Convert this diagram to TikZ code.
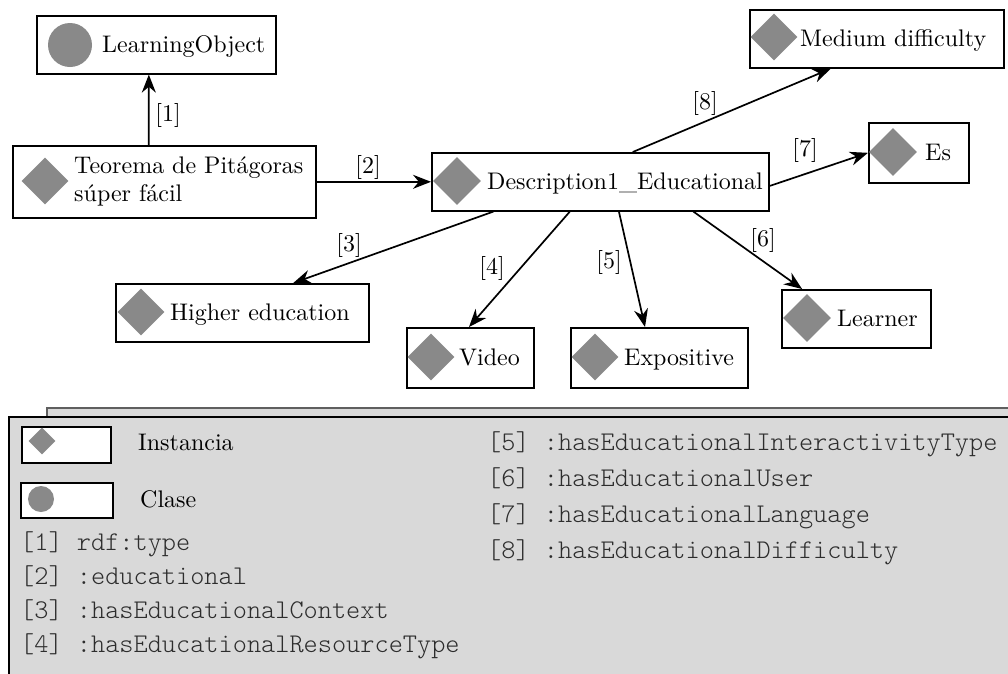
\documentclass[tikz,border=0pt]{standalone}
\usepackage{fontspec}
\setmainfont{lmroman10-regular.otf}[BoldFont=lmroman10-bold.otf, ItalicFont=lmroman10-italic.otf]
\newfontfamily\codefont{lmmonolt10-regular.otf}
\usetikzlibrary{shapes.geometric,arrows.meta,calc}
\definecolor{markgray}{RGB}{137,137,137}
\definecolor{panelgray}{RGB}{217,217,217}
\definecolor{tabedge}{RGB}{95,95,95}
\definecolor{codegray}{RGB}{45,45,45}
\begin{document}
\begin{tikzpicture}[x=1pt,y=-1pt,
  nodebox/.style={draw=black, line width=1.6pt, fill=white, rectangle, inner sep=0pt, anchor=north west},
  inst/.style={diamond, fill=markgray, inner sep=0pt, minimum width=#1, minimum height=#1, aspect=1},
  cls/.style={circle, fill=markgray, inner sep=0pt, minimum size=#1},
  boxtext/.style={font=\fontsize{24}{28}\selectfont, inner sep=0pt, anchor=base west},
  reltag/.style={font=\fontsize{24}{28}\selectfont, inner sep=0pt},
  rel/.style={draw=black, line width=1.7pt, -{Stealth[length=18pt,width=14pt]}},
  legcode/.style={font=\codefont\fontsize{27}{30}\selectfont, text=codegray, inner sep=0pt, anchor=base west},
]
\useasboundingbox (0,0) rectangle (1008,673);
\clip (0,0) rectangle (1008,673);

% ---- resources ----
\node[nodebox, minimum width=239, minimum height=58] (lo) at (36,15) {};
\node[cls=44] (lomark) at (70,45) {};
\node[boxtext] (lotext) at (102,52) {LearningObject};

\node[nodebox, minimum width=303, minimum height=72] (teo) at (12,145) {};
\node[inst=47] (teomark) at (45,181) {};
\node[font=\fontsize{24}{28}\selectfont, inner sep=0pt, anchor=west, align=left] (teotext) at (74,181) {Teorema de Pitágoras\\súper fácil};

\node[nodebox, minimum width=337, minimum height=58] (desc) at (431,152) {};
\node[inst=48] (descmark) at (457,181) {};
\node[boxtext] (desctext) at (487,189) {Description1\_Educational};

\node[nodebox, minimum width=254, minimum height=58] (med) at (749,9) {};
\node[inst=47] (medmark) at (774,37) {};
\node[boxtext] (medtext) at (800,46) {Medium difficulty};

\node[nodebox, minimum width=100, minimum height=60] (es) at (868,122) {};
\node[inst=48] (esmark) at (893,152) {};
\node[boxtext] (estext) at (925,160) {Es};

\node[nodebox, minimum width=253, minimum height=58] (hi) at (115,283) {};
\node[inst=47] (himark) at (141,312) {};
\node[boxtext] (hitext) at (170,320) {Higher education};

\node[nodebox, minimum width=127, minimum height=60] (video) at (406,327) {};
\node[inst=47] (videomark) at (431,357) {};
\node[boxtext] (videotext) at (459,365) {Video};

\node[nodebox, minimum width=177, minimum height=60] (expo) at (570,327) {};
\node[inst=47] (expomark) at (595,357) {};
\node[boxtext] (expotext) at (624,365) {Expositive};

\node[nodebox, minimum width=149, minimum height=58] (learner) at (781,289) {};
\node[inst=48] (learnermark) at (807,318) {};
\node[boxtext] (learnertext) at (837,326) {Learner};

% ---- properties ----
\draw[rel] ($(teo.north west)!0.449!(teo.north east)$) -- ($(lo.south west)!0.469!(lo.south east)$);
\draw[rel] (teo.east) -- (desc.west);
\draw[rel] ($(desc.south west)!0.184!(desc.south east)$) -- ($(hi.north west)!0.70!(hi.north east)$);
\draw[rel] ($(desc.south west)!0.41!(desc.south east)$) -- ($(video.north west)!0.49!(video.north east)$);
\draw[rel] ($(desc.south west)!0.555!(desc.south east)$) -- ($(expo.north west)!0.42!(expo.north east)$);
\draw[rel] ($(desc.south west)!0.775!(desc.south east)$) -- ($(learner.north west)!0.14!(learner.north east)$);
\draw[rel] ($(desc.north east)!0.57!(desc.south east)$) -- (es.west);
\draw[rel] ($(desc.north west)!0.596!(desc.north east)$) -- ($(med.south west)!0.32!(med.south east)$);

\node[reltag] (t1) at (168,115) {[1]};
\node[reltag] (t2) at (368,167) {[2]};
\node[reltag] (t3) at (349,245) {[3]};
\node[reltag] (t4) at (492,268) {[4]};
\node[reltag] (t5) at (609,262) {[5]};
\node[reltag] (t6) at (763,240) {[6]};
\node[reltag] (t7) at (805,150) {[7]};
\node[reltag] (t8) at (705,103) {[8]};

% ---- key ----
\draw[fill=panelgray, draw=tabedge, line width=1.2pt] (47,408) rectangle (1030,700);
\draw[fill=panelgray, draw=black, line width=1.6pt] (9,417) rectangle (1030,700);

\node[nodebox, minimum width=89, minimum height=36] (keyinst) at (21,426) {};
\node[inst=27] (keyinstmark) at (42,441) {};
\node[boxtext] (keyinsttext) at (138,450) {Instancia};

\node[nodebox, minimum width=92, minimum height=35] (keycls) at (20,482) {};
\node[cls=26] (keyclsmark) at (41,499) {};
\node[boxtext] (keyclstext) at (140,507) {Clase};

\node[legcode] (k1) at (20,550) {[1] rdf:type};
\node[legcode] (k2) at (20,584) {[2] :educational};
\node[legcode] (k3) at (20,618) {[3] :hasEducationalContext};
\node[legcode] (k4) at (20,652) {[4] :hasEducationalResourceType};
\node[legcode] (k5) at (487,450) {[5] :hasEducationalInteractivityType};
\node[legcode] (k6) at (487,486) {[6] :hasEducationalUser};
\node[legcode] (k7) at (487,522) {[7] :hasEducationalLanguage};
\node[legcode] (k8) at (487,558) {[8] :hasEducationalDifficulty};
\end{tikzpicture}
\end{document}
